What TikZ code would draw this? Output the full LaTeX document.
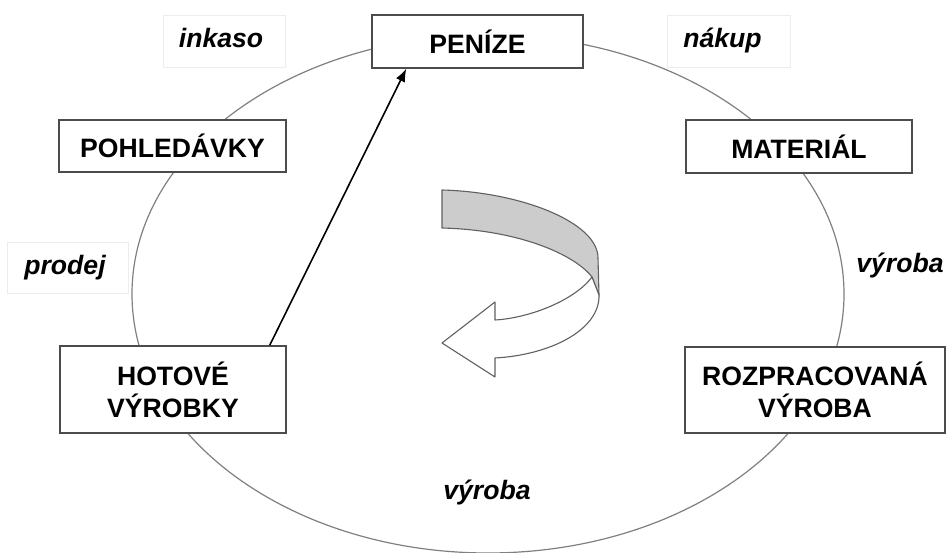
\documentclass[tikz,border=0pt]{standalone}
\usepackage{fontspec}
\setmainfont{Liberation Sans}
\usetikzlibrary{arrows.meta}
\definecolor{boxline}{gray}{0.30}
\definecolor{ellline}{gray}{0.50}
\definecolor{lblline}{gray}{0.93}
\definecolor{ribbon}{gray}{0.80}
\begin{document}
\begin{tikzpicture}[x=1pt,y=-1pt,
  bigtxt/.style={font=\fontsize{26.6}{32}\selectfont\bfseries},
  itxt/.style={font=\fontsize{26.6}{32}\selectfont\bfseries\itshape},
  stagebox/.style={bigtxt, draw=boxline, line width=1.4pt, fill=white, rectangle, inner sep=0pt, align=center},
  lblbox/.style={draw=lblline, line width=1pt, fill=white, rectangle, inner sep=0pt},
  arr/.style={-{Latex[length=13pt,width=10pt]}, line width=1.6pt, black}]
\useasboundingbox (0,0) rectangle (946,553);
\fill[white] (0,0) rectangle (946,553);
% label backgrounds (faint boxes)
\node[lblbox, minimum width=122pt, minimum height=52pt] (inkbox) at (224,42) {};
\node[lblbox, minimum width=123pt, minimum height=52pt] (nakbox) at (728.5,42) {};
\node[lblbox, minimum width=121pt, minimum height=51pt] (probox) at (68,268) {};
% the cycle
\draw[ellline, line width=1.2pt] (488,294) ellipse [x radius=356, y radius=259];
% stage boxes
\node[stagebox, minimum width=211pt, minimum height=53pt] (pen) at (477.5,41.5) {PENÍZE};
\node[stagebox, minimum width=227pt, minimum height=52pt] (poh) at (172.5,146) {POHLEDÁVKY};
\node[stagebox, minimum width=226pt, minimum height=53pt] (mat) at (799,146.5) {MATERIÁL};
\node[stagebox, minimum width=226pt, minimum height=87pt] (hot) at (173,389.5) {HOTOVÉ\\VÝROBKY};
\node[stagebox, minimum width=260pt, minimum height=86pt] (roz) at (815,390) {ROZPRACOVANÁ\\VÝROBA};
% labels
\node[itxt, anchor=base] (ink) at (221,48) {inkaso};
\node[itxt, anchor=base] (nak) at (722.5,48) {nákup};
\node[itxt, anchor=base] (pro) at (65,275) {prodej};
\node[itxt, anchor=base] (vyr1) at (900,273) {výroba};
\node[itxt, anchor=base] (vyr2) at (487,500) {výroba};
% arrow from finished goods to money
\draw[arr] ([xshift=-17pt]hot.north east) -- ([xshift=35pt]pen.south west);
% ribbon arrow in the centre
\filldraw[fill=ribbon, draw=gray!75!black, line width=1.1pt, line join=round]
  (442,190) .. controls (520,192) and (598,222) .. (598,258)
  -- (599,295) -- (592,277)
  .. controls (575,255) and (520,230) .. (442,228) -- cycle;
\filldraw[fill=white, draw=gray!75!black, line width=1.1pt, line join=round]
  (592,277) .. controls (575,300) and (530,318) .. (495,320)
  -- (495,302) -- (442,343) -- (495,377) -- (495,358)
  .. controls (550,355) and (600,330) .. (599,295) -- cycle;
\end{tikzpicture}
\end{document}
